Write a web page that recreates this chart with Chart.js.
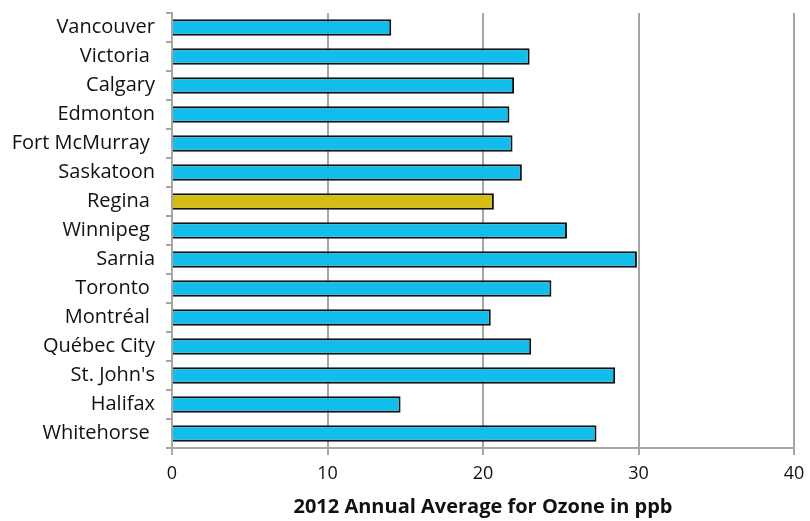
<!DOCTYPE html>
<html>
<head>
<meta charset="utf-8">
<script src="https://cdn.jsdelivr.net/npm/chart.js@4.4.1/dist/chart.umd.min.js"></script>
<style>
	html, body { margin: 0; padding: 0; background: #fff; }
	#wrap { width: 810px; height: 521px; }
</style>
</head>
<body>
<div id="wrap"><canvas id="canvas1" width="810" height="521"></canvas></div>
<script>
// city labels (some carry a trailing space, as in the original)
var cities = ["Vancouver", "Victoria ", "Calgary", "Edmonton", "Fort McMurray ", "Saskatoon",
	"Regina ", "Winnipeg ", "Sarnia", "Toronto ", "Montréal ", "Québec City", "St. John's", "Halifax", "Whitehorse "];
var ozone = [14.1, 23.0, 22.0, 21.7, 21.9, 22.5, 20.7, 25.4, 29.9, 24.4, 20.5, 23.1, 28.5, 14.7, 27.3];
var highlightCity = "Regina ";
var xTicks = [0, 10, 20, 30, 40];
var axisTitle = "2012 Annual Average for Ozone in ppb";

var barColors = cities.map(function(c) {
	return c == highlightCity ? "#D4BD10" : "#10BDEB";
});

var fontFamily = "'Open Sans', 'Noto Sans', sans-serif";

var ctx = document.getElementById("canvas1");
var chart = new Chart(ctx, {
	type: 'bar',
	data: {
		labels: cities,
		datasets: [{
			data: ozone,
			backgroundColor: barColors,
			borderColor: "#111",
			borderWidth: 2,
			borderSkipped: 'start',
			categoryPercentage: 1,
			barPercentage: 0.57
		}]
	},
	options: {
		indexAxis: 'y',
		responsive: false,
		maintainAspectRatio: false,
		animation: false,
		layout: { padding: { top: 13, right: 16, left: 0, bottom: 0 } },
		plugins: {
			legend: { display: false },
			tooltip: { enabled: false }
		},
		scales: {
			x: {
				min: 0,
				max: 40,
				afterBuildTicks: function(axis) {
					axis.ticks = xTicks.map(function(v) { return { value: v }; });
				},
				grid: {
					color: "#a6a6a6",
					lineWidth: 2,
					tickLength: 7,
					drawOnChartArea: true
				},
				border: { display: true, color: "#a6a6a6", width: 2 },
				ticks: {
					color: "#111",
					font: { family: fontFamily, size: 18 },
					padding: 8
				},
				title: {
					display: true,
					text: axisTitle,
					color: "#111",
					font: { family: fontFamily, size: 20, weight: 'bold' },
					padding: { top: 4, bottom: 2 }
				},
				afterFit: function(axis) {
					axis.height = 73;
					axis.paddingLeft = 0;
					axis.paddingRight = 0;
				}
			},
			y: {
				grid: {
					display: true,
					offset: true,
					drawOnChartArea: false,
					color: "#a6a6a6",
					lineWidth: 2,
					tickLength: 6
				},
				border: { display: true, color: "#a6a6a6", width: 2 },
				ticks: {
					color: "#111",
					font: { family: fontFamily, size: 20 },
					padding: 11,
					autoSkip: false
				},
				afterFit: function(axis) {
					axis.width = 172;
					axis.paddingTop = 0;
					axis.paddingBottom = 0;
				}
			}
		}
	}
});
</script>
</body>
</html>
